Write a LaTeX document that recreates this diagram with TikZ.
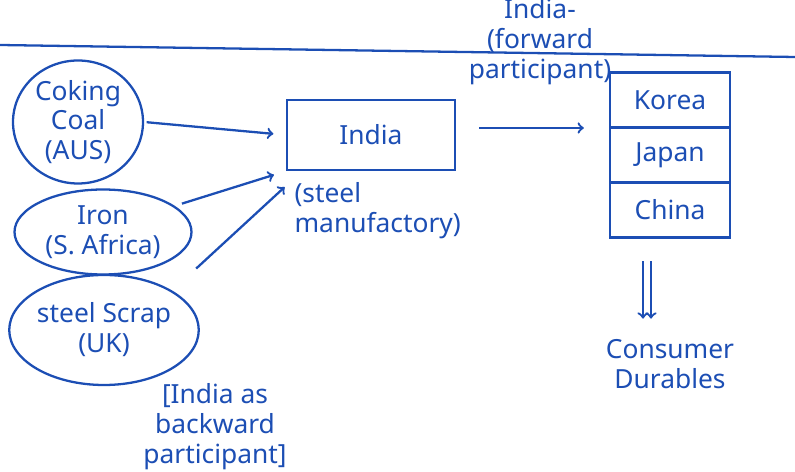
\documentclass[tikz,border=0pt]{standalone}
\usepackage{fontspec}
\setmainfont{Noto Sans}
\usepackage{xcolor}
\usepackage{tikz}
\usetikzlibrary{positioning,shapes.geometric,calc}

\definecolor{ink}{RGB}{28,78,180}

\begin{document}
\begin{tikzpicture}[
    font=\fontsize{15}{17}\selectfont,
    source/.style={
        draw=ink,
        ellipse,
        line width=1.3pt,
        inner sep=0pt,
        text=ink,
        align=center
    },
    hub/.style={
        draw=ink,
        line width=1.3pt,
        minimum width=3.36cm,
        minimum height=1.4cm,
        text=ink,
        align=center
    },
    market/.style={
        draw=ink,
        line width=1.3pt,
        minimum width=2.4cm,
        minimum height=1.1cm,
        text=ink,
        align=center
    },
    arrow/.style={->, ink, line width=1.3pt},
    note/.style={text=ink, align=center}
]
\useasboundingbox (0,0) rectangle (15.9,9.44);

\draw[ink, line width=1.3pt] (0,8.54) -- (15.9,8.3);

\node[source, minimum width=2.6cm, minimum height=2.46cm] (coal) at (1.56,7.0) {Coking\\Coal\\(AUS)};
\node[source, minimum width=3.54cm, minimum height=1.7cm] (iron) at (2.06,4.8) {Iron\\(S. Africa)};
\node[source, minimum width=3.66cm, minimum height=2.2cm] (scrap) at (2.08,2.84) {steel Scrap\\(UK)};

\node[hub] (india) at (7.42,6.74) {India};
\node[note, align=left, anchor=north west] (steel) at ($(india.south west)+(0.05,-0.1)$) {(steel\\manufactory)};

\node[market] (korea) at (13.4,7.44) {Korea};
\node[market, below=-1.3pt of korea] (japan) {Japan};
\node[market, below=-1.3pt of japan] (china) {China};

\node[note] (forward) at (10.8,8.6) {India-\\(forward\\participant)};

\node[note, below=1.9cm of china] (durables) {Consumer\\Durables};

\node[note] (backward) at (4.3,0.9) {[India as\\backward\\participant]};

\draw[arrow, shorten <=0.05cm, shorten >=0.25cm] (coal.east) -- (india.west);
\draw[arrow, shorten <=0.15cm, shorten >=0.25cm] (iron.20) -- (india.south west);
\draw[arrow, shorten <=0.65cm, shorten >=0.1cm] (scrap.30) -- ([yshift=-0.15cm]steel.north west);
\draw[arrow, shorten <=0.46cm, shorten >=0.5cm] ([yshift=0.14cm]india.east) -- ([yshift=0.14cm]india.east -| korea.west);

\foreach \dx in {-0.54,-0.38}
    \draw[arrow, shorten <=0.45cm, shorten >=0.3cm] ([xshift=\dx cm]china.south) -- ([xshift=\dx cm]china.south |- durables.north);

\end{tikzpicture}
\end{document}
